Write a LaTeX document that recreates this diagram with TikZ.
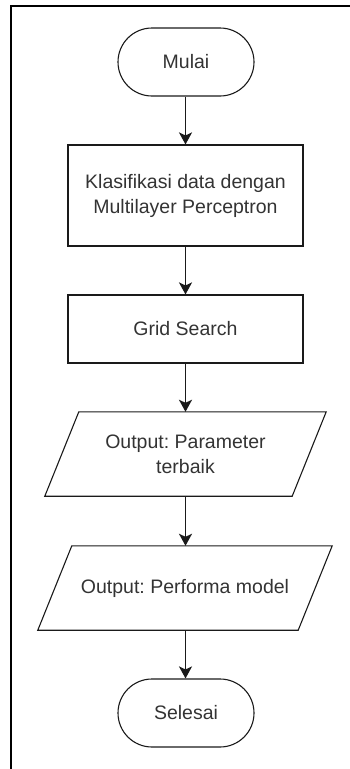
\documentclass[tikz,border=0pt]{standalone}
\usepackage{fontspec}
\setmainfont{Liberation Sans}
\frenchspacing
\usetikzlibrary{arrows.meta,calc}
\definecolor{txt}{HTML}{333333}
\definecolor{ln}{HTML}{1A1A1A}
\tikzset{
  base/.style={font=\fontsize{19.5}{25}\selectfont, text=txt, align=center, inner sep=0pt},
  terminal/.style={base, draw=ln, line width=1.1pt, rounded corners=34pt, minimum width=136pt, minimum height=68pt},
  process/.style={base, draw=ln, line width=1.1pt, minimum width=235pt},
  io/.style={base, minimum height=84pt},
  ioshape/.style={draw=ln, line width=1.1pt},
  flow/.style={draw=ln, line width=1.8pt, -{Stealth[length=12pt,width=13pt,inset=3pt]}}
}
\begin{document}
\begin{tikzpicture}[x=1pt,y=-1pt]
\useasboundingbox (0,0) rectangle (350,769);
\draw[line width=2pt] (11,769) -- (11,6) -- (350,6);

\node[terminal] (mulai) at (186,62) {Mulai};
\node[process, minimum height=101pt] (klas) at (185.5,195.5) {Klasifikasi data dengan\\Multilayer Perceptron};
\node[process, minimum height=68pt] (grid) at (185.5,329) {Grid Search};
\node[io, minimum width=247pt] (par1) at (185.5,454) {Output: Parameter\\terbaik};
\node[io, minimum width=260pt] (par2) at (185,588) {Output: Performa model};
\node[terminal] (selesai) at (186,713) {Selesai};

\draw[ioshape] ($(par1.north west)+(17,0)$) -- ($(par1.north east)+(17,0)$) -- ($(par1.south east)+(-17,0)$) -- ($(par1.south west)+(-17,0)$) -- cycle;
\draw[ioshape] ($(par2.north west)+(17,0)$) -- ($(par2.north east)+(17,0)$) -- ($(par2.south east)+(-17,0)$) -- ($(par2.south west)+(-17,0)$) -- cycle;

\draw[flow] (mulai.south -| klas.north) -- (klas.north);
\draw[flow] (klas.south) -- (grid.north);
\draw[flow] (grid.south) -- (par1.north);
\draw[flow] (par1.south) -- (par1.south |- par2.north);
\draw[flow] (par2.south -| par1.south) -- (par1.south |- selesai.north);
\end{tikzpicture}
\end{document}
